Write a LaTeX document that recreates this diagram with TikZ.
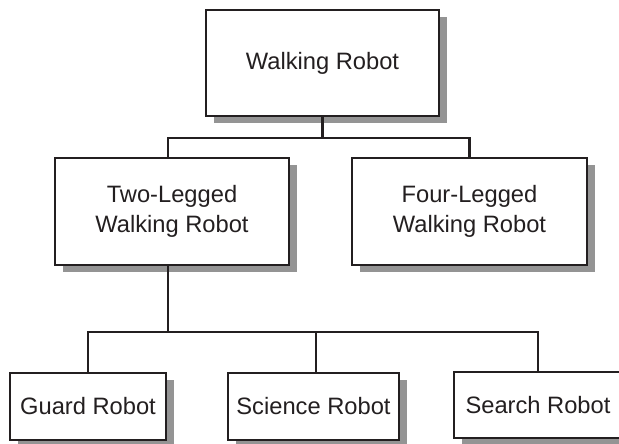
\documentclass[tikz,border=0pt]{standalone}
\usepackage{fontspec}
\setmainfont{Liberation Sans}
\usetikzlibrary{shadows}
\definecolor{ink}{HTML}{231F20}
\definecolor{shade}{HTML}{949494}
\begin{document}
\begin{tikzpicture}[x=1pt,y=-1pt,
  box/.style={draw=ink, line width=2.6pt, fill=white, text=ink, align=center,
    inner sep=0pt, font=\fontsize{23.7}{30}\selectfont,
    drop shadow={shadow xshift=8pt, shadow yshift=-7pt, fill=shade, opacity=1}},
  link/.style={draw=ink, line width=2.4pt}]
\useasboundingbox (0,0) rectangle (619,444);
\begin{scope}
\clip (0,0) rectangle (619,444);
\node[box, minimum width=233pt, minimum height=106pt] (top) at (322.5,63) {Walking Robot};
\node[box, minimum width=234pt, minimum height=107pt] (two) at (172,211.5) {Two-Legged\\Walking Robot};
\node[box, minimum width=235pt, minimum height=107pt] (four) at (469.5,211.5) {Four-Legged\\Walking Robot};
\node[box, minimum width=156pt, minimum height=67pt] (guard) at (88,406.5) {Guard Robot};
\node[box, minimum width=171pt, minimum height=67pt] (science) at (313.5,406.5) {Science Robot};
\node[box, minimum width=168pt, minimum height=66pt] (search) at (538,405) {Search Robot};
\coordinate (j1) at (322.5,138);
\coordinate (j2) at (168,332);
\coordinate (sx) at (316,332);
\draw[link] (top.south) -- (j1);
\draw[link] (two.north -| j2) |- (j1) -| (four.north);
\draw[link] (two.south -| j2) -- (j2);
\draw[link] (guard.north) |- (j2) -| (search.north);
\draw[link] (science.north -| sx) -- (sx);
\end{scope}
\end{tikzpicture}
\end{document}
